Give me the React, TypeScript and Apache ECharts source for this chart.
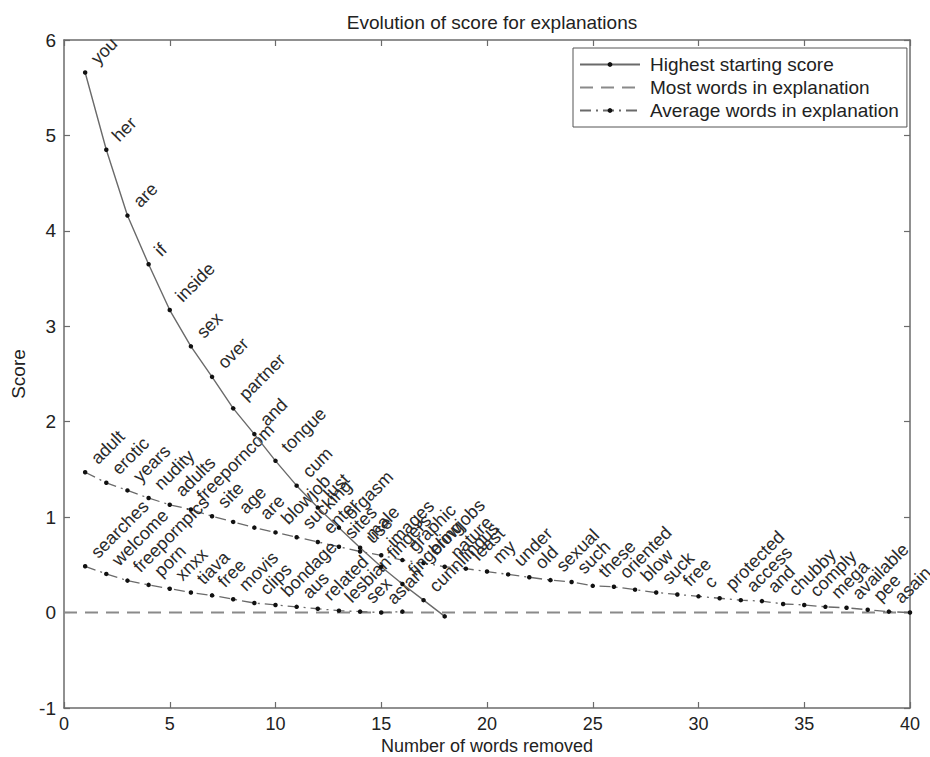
import React, { useEffect, useRef } from "react";
import * as echarts from "echarts";

const highestScores = [5.66, 4.85, 4.16, 3.65, 3.17, 2.79, 2.47, 2.14, 1.87, 1.59, 1.33, 1.10, 0.89, 0.68, 0.48, 0.30, 0.13, -0.04];
const highestWords = ["you", "her", "are", "if", "inside", "sex", "over", "partner", "and", "tongue", "cum", "lust", "orgasm", "male", "fingers", "fingering", "cunnilingus", ""];

const longScores = [1.47, 1.36, 1.28, 1.20, 1.13, 1.08, 1.01, 0.95, 0.89, 0.84, 0.79, 0.74, 0.69, 0.64, 0.60, 0.55, 0.52, 0.48, 0.46, 0.43, 0.40, 0.37, 0.34, 0.32, 0.28, 0.27, 0.24, 0.21, 0.19, 0.17, 0.15, 0.13, 0.12, 0.09, 0.08, 0.06, 0.05, 0.03, 0.01, 0.00];
const longWords = ["adult", "erotic", "years", "nudity", "adults", "freeporncom", "site", "age", "are", "blowjob", "sucking", "enter", "sites", "use", "images", "graphic", "blowjobs", "nature", "least", "my", "under", "old", "sexual", "such", "these", "oriented", "blow", "suck", "free", "c", "protected", "access", "and", "chubby", "comply", "mega", "available", "pee", "asain", ""];

const shortScores = [0.485, 0.405, 0.335, 0.29, 0.25, 0.21, 0.18, 0.14, 0.10, 0.08, 0.06, 0.04, 0.02, 0.01, 0.00, 0.01];
const shortWords = ["searches", "welcome", "freepornpics", "porn", "xnxx", "tiava", "free", "movis", "clips", "bondage", "aus", "related", "lesbian", "sex", "asian", ""];

const baselineX = [0, 40];
const baselineY = [0, 0];

const xTicks = { min: 0, max: 40, interval: 5 };
const yTicks = { min: -1, max: 6, interval: 1 };

const FONT = "'Liberation Sans', Arial, Helvetica, sans-serif";

function toData(values: number[], words: string[]) {
  return values.map((v, i) => ({ name: words[i], value: [i + 1, v] }));
}

const wordLabel = {
  show: true,
  formatter: (p: any) => p.name,
  rotate: 45,
  position: [11, -9],
  align: "left",
  verticalAlign: "middle",
  fontSize: 18,
  color: "#2a2a2a",
  fontFamily: FONT,
};

export default function App() {
  const ref = useRef<HTMLDivElement>(null);
  useEffect(() => {
    if (!ref.current) return;
    const chart = echarts.init(ref.current, undefined, { renderer: "svg" });
    const axisColor = "#6b6b6b";
    const common = {
      axisLine: { show: true, onZero: false, lineStyle: { color: axisColor, width: 1.5 } },
      axisTick: { show: true, inside: true, length: 6, lineStyle: { color: axisColor, width: 1.2 } },
      splitLine: { show: false },
    };
    chart.setOption({
      animation: false,
      backgroundColor: "#ffffff",
      textStyle: { fontFamily: FONT },
      title: {
        text: "Evolution of score for explanations",
        left: 487,
        top: 8,
        textAlign: "center",
        textStyle: { fontSize: 19, fontWeight: "normal", color: "#222", fontFamily: FONT },
      },
      legend: {
        orient: "vertical",
        left: 573,
        top: 48,
        data: [
          "Highest starting score",
          { name: "Most words in explanation", itemStyle: { color: "rgba(0,0,0,0)", borderWidth: 0 } },
          "Average words in explanation",
        ],
        itemWidth: 60,
        itemHeight: 6,
        itemGap: 4,
        padding: [7, 8, 7, 6],
        borderColor: "#555",
        borderWidth: 1,
        backgroundColor: "#fff",
        textStyle: { fontSize: 19, color: "#222", fontFamily: FONT, padding: [0, 0, 0, 5] },
      },
      grid: { left: 64, top: 40, right: 20, bottom: 49, containLabel: false, outerBoundsMode: "none" },
      xAxis: [
        {
          type: "value",
          ...xTicks,
          position: "bottom",
          ...common,
          axisLabel: { fontSize: 18, color: "#222", margin: 7, fontFamily: FONT },
          name: "Number of words removed",
          nameLocation: "middle",
          nameGap: 38,
          nameMoveOverlap: false,
          nameTextStyle: { fontSize: 18, color: "#222", fontFamily: FONT, verticalAlign: "middle" },
        },
        {
          type: "value",
          ...xTicks,
          position: "top",
          ...common,
          axisLabel: { show: false },
        },
      ],
      yAxis: [
        {
          type: "value",
          ...yTicks,
          position: "left",
          ...common,
          axisLabel: { fontSize: 19, color: "#222", margin: 8, fontFamily: FONT },
          name: "Score",
          nameLocation: "middle",
          nameGap: 46,
          nameMoveOverlap: false,
          nameRotate: 90,
          nameTextStyle: { fontSize: 19, color: "#222", fontFamily: FONT, verticalAlign: "middle" },
        },
        {
          type: "value",
          ...yTicks,
          position: "right",
          ...common,
          axisLabel: { show: false },
        },
      ],
      series: [
        {
          name: "Highest starting score",
          type: "line",
          data: toData(highestScores, highestWords),
          symbol: "circle",
          symbolSize: 4.5,
          itemStyle: { color: "#111" },
          lineStyle: { color: "#6a6a6a", width: 1.4, type: "solid" },
          label: wordLabel,
          z: 4,
        },
        {
          name: "Most words in explanation",
          type: "line",
          data: baselineX.map((x, i) => [x, baselineY[i]]),
          symbol: "none",
          itemStyle: { color: "#8a8a8a" },
          lineStyle: { color: "#8a8a8a", width: 2, type: [13, 8] },
          z: 2,
        },
        {
          name: "Average words in explanation",
          type: "line",
          data: toData(longScores, longWords),
          symbol: "circle",
          symbolSize: 4.5,
          itemStyle: { color: "#111" },
          lineStyle: { color: "#6a6a6a", width: 1.3, type: [11, 5, 2, 5] },
          label: wordLabel,
          z: 3,
        },
        {
          name: "Average words in explanation",
          type: "line",
          data: toData(shortScores, shortWords),
          symbol: "circle",
          symbolSize: 4.5,
          itemStyle: { color: "#111" },
          lineStyle: { color: "#6a6a6a", width: 1.3, type: [11, 5, 2, 5] },
          label: wordLabel,
          z: 3,
        },
      ],
    });
    return () => chart.dispose();
  }, []);
  return (
    <div
      ref={ref}
      style={{ position: "fixed", left: 0, top: 0, width: 930, height: 757, background: "#fff" }}
    />
  );
}
